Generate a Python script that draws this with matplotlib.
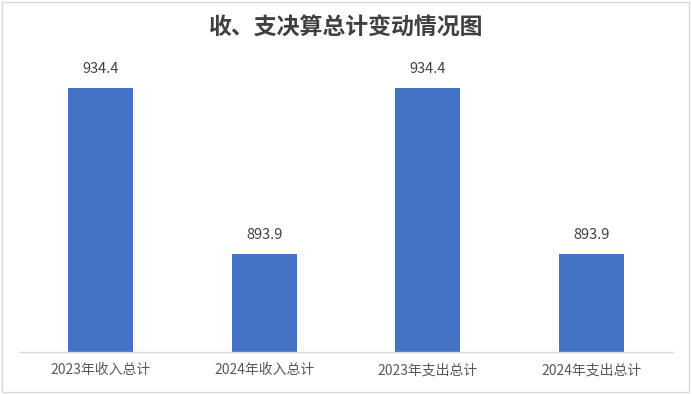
import matplotlib
matplotlib.use("Agg")
import matplotlib.pyplot as plt
from matplotlib.patches import Rectangle

plt.rcParams['font.family'] = ['Noto Sans CJK SC', 'DejaVu Sans']

# 数据
categories = ["2023年收入总计", "2024年收入总计", "2023年支出总计", "2024年支出总计"]
values = [934.4, 893.9, 934.4, 893.9]
title = "收、支决算总计变动情况图"

fig = plt.figure(figsize=(6.92, 3.94), dpi=100)
ax = fig.add_axes([19 / 692, 42 / 394, 654 / 692, 287 / 394])

x = range(len(categories))
ax.bar(x, values, width=0.40, color="#4472C4", zorder=2)

# 数值标签
for i, v in zip(x, values):
    ax.annotate(f"{v:.1f}", (i, v), xytext=(0, 14), textcoords="offset points",
                ha="center", va="center", fontsize=10.5, color="#404040")

ax.set_xlim(-0.5, len(categories) - 0.5)
ax.set_ylim(870, 940)
ax.set_xticks(list(x))
ax.set_xticklabels(categories, fontsize=10, color="#595959")
ax.set_yticks([])
ax.tick_params(axis="x", length=0, pad=8)
for side in ["top", "right", "left"]:
    ax.spines[side].set_visible(False)
ax.spines["bottom"].set_color("#D9D9D9")
ax.spines["bottom"].set_linewidth(1)

fig.text(0.5, 1 - 28 / 394, title, ha="center", va="center",
         fontsize=16.5, fontweight="bold", color="#404040")

# 外边框
fig.patches.append(Rectangle((2 / 692, 2 / 394), 687 / 692, 390 / 394,
                             transform=fig.transFigure, fill=False,
                             edgecolor="#D9D9D9", linewidth=1))

fig.savefig("out.png", dpi=100)
